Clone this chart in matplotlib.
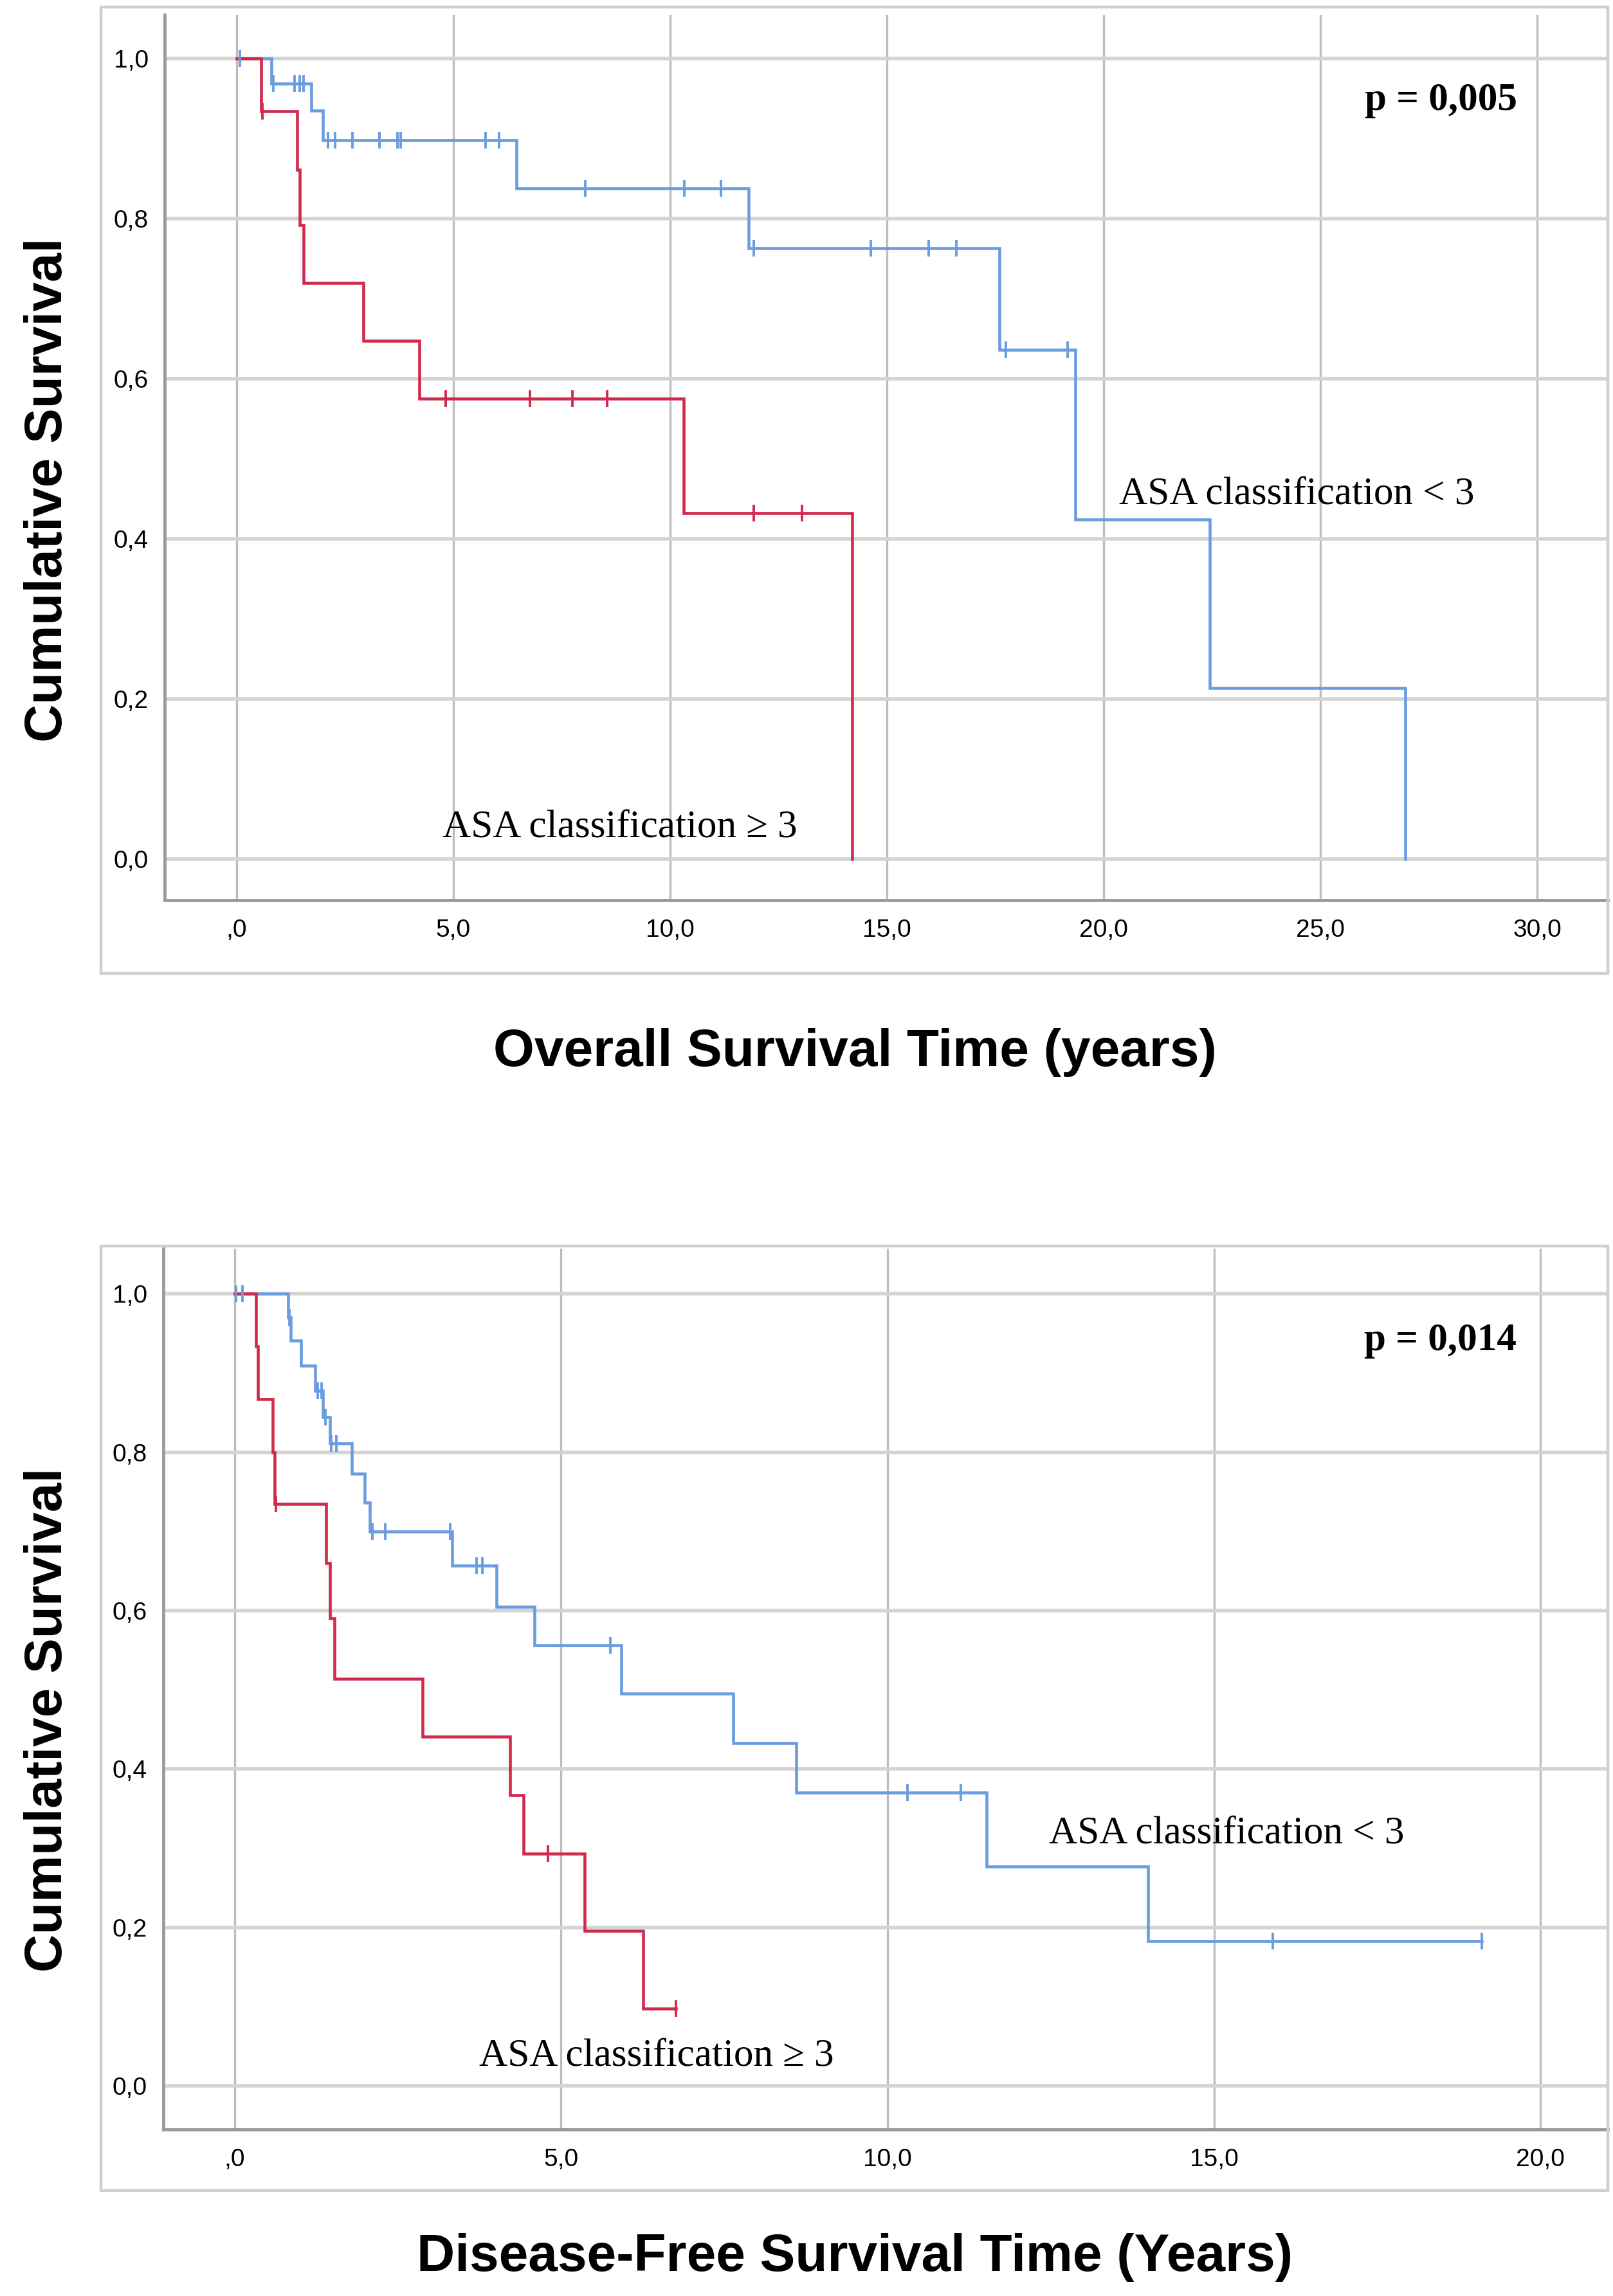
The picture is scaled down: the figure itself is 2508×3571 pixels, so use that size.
import numpy as np
import matplotlib
matplotlib.use("Agg")
import matplotlib.pyplot as plt
from matplotlib.patches import Rectangle

# ---------------- data ----------------
# Overall survival, ASA < 3 (blue)
os_low_times = [0.0, 0.80, 1.72, 1.99, 6.46, 11.81, 17.60, 19.35, 22.45, 26.95]
os_low_surv = [1.0, 0.969, 0.935, 0.898, 0.838, 0.763, 0.636, 0.424, 0.214, 0.0]
os_low_cens = [0.07, 0.85, 1.33, 1.46, 1.55, 2.11, 2.27, 2.67, 3.30, 3.71, 3.78,
               5.74, 6.05, 8.04, 10.33, 11.17, 11.93, 14.63, 15.97, 16.60, 17.74, 19.17]
# Overall survival, ASA >= 3 (red)
os_high_times = [0.0, 0.56, 1.39, 1.46, 1.55, 2.92, 4.21, 10.31, 14.20]
os_high_surv = [1.0, 0.934, 0.861, 0.792, 0.720, 0.647, 0.575, 0.432, 0.0]
os_high_cens = [0.60, 4.82, 6.77, 7.75, 8.55, 11.93, 13.04]

# Disease-free survival, ASA < 3 (blue)
dfs_low_times = [0.0, 0.82, 0.86, 1.02, 1.23, 1.35, 1.46, 1.80, 1.99, 2.07, 3.33,
                 4.01, 4.59, 5.92, 7.64, 8.60, 11.52, 13.99]
dfs_low_surv = [1.0, 0.970, 0.941, 0.909, 0.878, 0.844, 0.811, 0.773, 0.736, 0.700,
                0.657, 0.605, 0.556, 0.495, 0.433, 0.370, 0.277, 0.183]
dfs_low_cens = [0.02, 0.12, 0.84, 1.27, 1.33, 1.39, 1.48, 1.56, 2.11, 2.31, 3.30,
                3.71, 3.79, 5.75, 10.30, 11.12, 15.90, 19.10]
# Disease-free survival, ASA >= 3 (red)
dfs_high_times = [0.0, 0.33, 0.36, 0.58, 0.61, 1.40, 1.46, 1.53, 2.88, 4.22, 4.43, 5.36, 6.26]
dfs_high_surv = [1.0, 0.934, 0.867, 0.800, 0.735, 0.660, 0.590, 0.514, 0.441, 0.367,
                 0.293, 0.196, 0.098]
dfs_high_cens = [0.63, 4.80, 6.76]

y_ticks = [0.0, 0.2, 0.4, 0.6, 0.8, 1.0]
y_ticklabels = ["0,0", "0,2", "0,4", "0,6", "0,8", "1,0"]
os_xticks = [0, 5, 10, 15, 20, 25, 30]
os_xticklabels = [",0", "5,0", "10,0", "15,0", "20,0", "25,0", "30,0"]
dfs_xticks = [0, 5, 10, 15, 20]
dfs_xticklabels = [",0", "5,0", "10,0", "15,0", "20,0"]

label_low = "ASA classification < 3"
label_high = "ASA classification \u2265 3"
os_p = "p = 0,005"
dfs_p = "p = 0,014"
os_xlabel = "Overall Survival Time (years)"
dfs_xlabel = "Disease-Free Survival Time (Years)"
ylabel = "Cumulative Survival"

# ---------------- styling ----------------
W, H = 2508, 3571
DPI = 100
BLUE = "#6a9ce0"
RED = "#d02a4c"
SANS = ["Liberation Sans", "DejaVu Sans"]
SERIF = ["Liberation Serif", "DejaVu Serif"]

fig = plt.figure(figsize=(W / DPI, H / DPI), dpi=DPI)
fig.patch.set_facecolor("white")


def fx(px):
    return px / W


def fy(py):
    return 1 - py / H


def add_frame(x0, y0, x1, y1):
    r = Rectangle((fx(x0), fy(y1)), fx(x1) - fx(x0), fy(y0) - fy(y1),
                  transform=fig.transFigure, fill=False, edgecolor="#cfcfcf",
                  linewidth=3.2, zorder=0)
    fig.patches.append(r)


def draw_curve(ax, times, surv, cens, color, end=None):
    t = list(times)
    s = list(surv)
    if end is not None:
        t = t + [end]
        s = s + [s[-1]]
    ax.step(t, s, where="post", color=color, linewidth=3.3, zorder=3,
            solid_joinstyle="miter")
    idx = np.searchsorted(np.array(times), np.array(cens), side="right") - 1
    cy = np.array(surv)[idx]
    ax.plot(cens, cy, linestyle="none", marker="|", markersize=19,
            markeredgewidth=2.8, color=color, zorder=4)


def style_axes(ax, xticks, xticklabels):
    ax.set_facecolor("white")
    for side in ("top", "right"):
        ax.spines[side].set_visible(False)
    for side in ("left", "bottom"):
        ax.spines[side].set_color("#9a9a9a")
        ax.spines[side].set_linewidth(3.5)
    ax.set_yticks(y_ticks)
    ax.set_yticklabels(y_ticklabels)
    ax.set_xticks(xticks)
    ax.set_xticklabels(xticklabels)
    ax.tick_params(axis="both", length=0, labelsize=28, colors="black")
    ax.tick_params(axis="y", pad=18)
    ax.tick_params(axis="x", pad=21)
    for lab in ax.get_xticklabels() + ax.get_yticklabels():
        lab.set_fontfamily(SANS)
    ax.yaxis.grid(True, color="#d4d4d4", linewidth=4.0, zorder=1)
    ax.xaxis.grid(True, color="#bdbdbd", linewidth=2.4, zorder=1)
    ax.set_axisbelow(True)


# ---------------- top panel: overall survival ----------------
add_frame(157, 11, 2500, 1514)
ax1 = fig.add_axes([fx(256), fy(1400), fx(2500) - fx(256), fy(23) - fy(1400)])
style_axes(ax1, os_xticks, os_xticklabels)
ax1.set_xlim(-1.66, 31.63)
ax1.set_ylim(-0.0514, 1.0546)
draw_curve(ax1, os_low_times, os_low_surv, os_low_cens, BLUE)
draw_curve(ax1, os_high_times, os_high_surv, os_high_cens, RED)
ax1.text(26.02, 0.936, os_p, fontsize=44, fontweight="bold", family=SERIF,
         ha="left", va="baseline", zorder=5)
ax1.text(20.36, 0.444, label_low, fontsize=44, family=SERIF,
         ha="left", va="baseline", zorder=5)
ax1.text(4.75, 0.028, label_high, fontsize=44, family=SERIF,
         ha="left", va="baseline", zorder=5)

fig.text(fx(96), fy(762), ylabel, rotation=90, rotation_mode="anchor",
         ha="center", va="baseline", fontsize=59, fontweight="bold", family=SANS)
fig.text(fx(1329), fy(1658), os_xlabel, ha="center", va="baseline",
         fontsize=59, fontweight="bold", family=SANS)

# ---------------- bottom panel: disease-free survival ----------------
add_frame(157, 1938, 2500, 3407)
ax2 = fig.add_axes([fx(254), fy(3312), fx(2500) - fx(254), fy(1942) - fy(3312)])
style_axes(ax2, dfs_xticks, dfs_xticklabels)
ax2.set_xlim(-1.09, 21.03)
ax2.set_ylim(-0.055, 1.057)
draw_curve(ax2, dfs_low_times, dfs_low_surv, dfs_low_cens, BLUE, end=dfs_low_cens[-1])
draw_curve(ax2, dfs_high_times, dfs_high_surv, dfs_high_cens, RED, end=dfs_high_cens[-1])
ax2.text(17.30, 0.929, dfs_p, fontsize=44, fontweight="bold", family=SERIF,
         ha="left", va="baseline", zorder=5)
ax2.text(12.47, 0.307, label_low, fontsize=44, family=SERIF,
         ha="left", va="baseline", zorder=5)
ax2.text(3.75, 0.026, label_high, fontsize=44, family=SERIF,
         ha="left", va="baseline", zorder=5)

fig.text(fx(96), fy(2675), ylabel, rotation=90, rotation_mode="anchor",
         ha="center", va="baseline", fontsize=59, fontweight="bold", family=SANS)
fig.text(fx(1329), fy(3532), dfs_xlabel, ha="center", va="baseline",
         fontsize=59, fontweight="bold", family=SANS)

fig.savefig("out.png", dpi=DPI, facecolor="white")
